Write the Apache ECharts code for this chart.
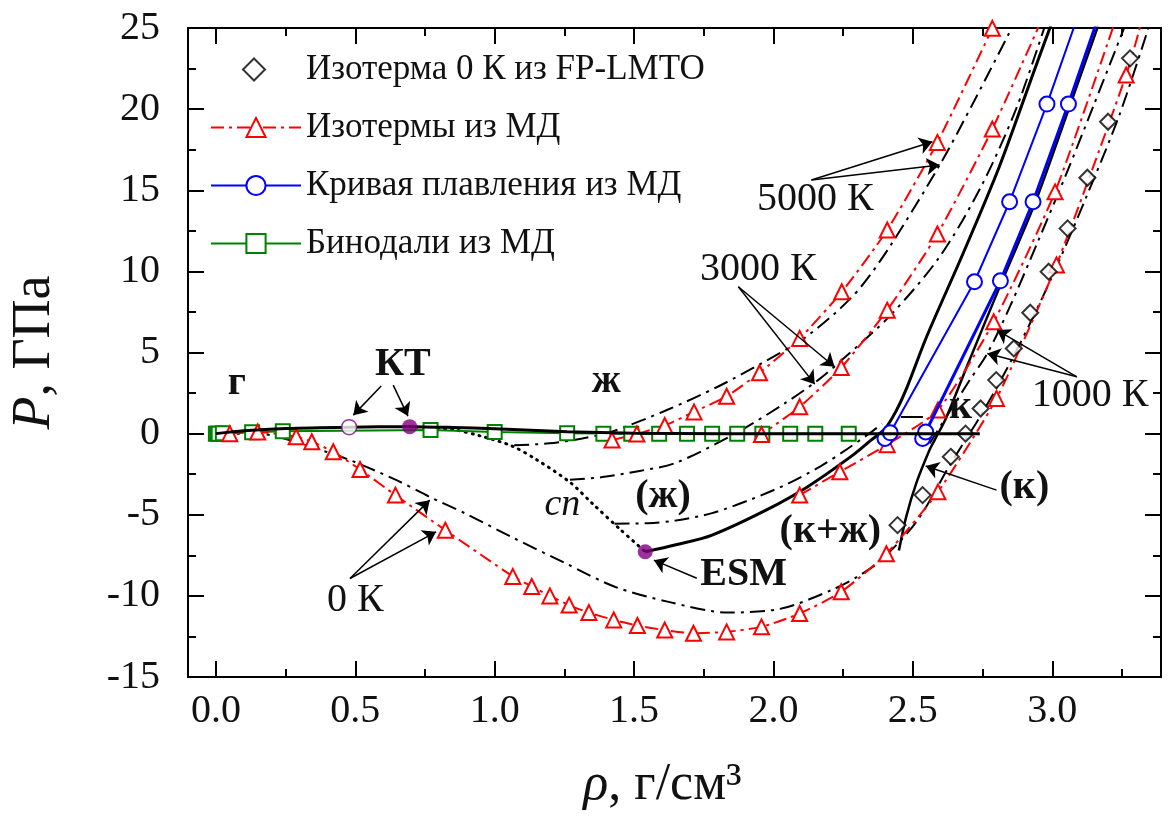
<!DOCTYPE html>
<html>
<head>
<meta charset="utf-8">
<script src="https://cdn.jsdelivr.net/npm/echarts@6.0.0/dist/echarts.min.js"></script>
<style>html,body{margin:0;padding:0;background:#fff}#c{width:1168px;height:827px}</style>
</head>
<body>
<div id="c"></div>
<script>
// ---------------- data (rho, g/cm3 ; P, GPa) ----------------
const xMajorTicks = [0, 0.5, 1.0, 1.5, 2.0, 2.5, 3.0];
const xMinorTicks = [0.25, 0.75, 1.25, 1.75, 2.25, 2.75, 3.25];

const fpLmto0K = [[2.445,-5.64],[2.535,-3.79],[2.636,-1.43],[2.689,0.0],[2.743,1.55],[2.799,3.3],[2.862,5.25],[2.921,7.45],[2.987,9.98],[3.055,12.65],[3.126,15.77],[3.2,19.22],[3.279,23.13]];

const md0K = [[0.05,0.0],[0.15,0.1],[0.288,-0.2],[0.344,-0.5],[0.421,-1.12],[0.517,-2.21],[0.644,-3.79],[0.823,-5.95],[1.065,-8.8],[1.133,-9.42],[1.198,-10.0],[1.267,-10.57],[1.338,-11.03],[1.427,-11.48],[1.512,-11.83],[1.61,-12.11],[1.713,-12.3],[1.832,-12.22],[1.957,-11.91],[2.094,-11.09],[2.243,-9.75],[2.405,-7.4],[2.59,-3.59],[2.8,2.17],[3.015,10.4],[3.265,22.1],[3.33,26.0]];
const md1000K = [[2.094,-3.79],[2.238,-2.35],[2.408,-0.68],[2.59,1.45],[2.79,6.89],[3.01,14.9],[3.245,26.4]];
const md3000K = [[1.957,-0.05],[2.094,1.65],[2.243,4.07],[2.408,7.61],[2.588,12.3],[2.785,18.77],[2.98,26.2]];
const md5000K = [[1.421,-0.4],[1.51,-0.02],[1.61,0.5],[1.715,1.34],[1.832,2.3],[1.95,3.75],[2.094,5.87],[2.245,8.74],[2.408,12.55],[2.588,17.95],[2.785,24.98]];

const meltLeftMD = [[2.40,-0.3],[2.419,0.05],[2.721,9.36],[2.847,14.29],[2.981,20.31],[3.085,25.4]];
const meltRightMD = [[2.535,-0.3],[2.546,0.1],[2.814,9.42],[2.931,14.29],[3.058,20.31],[3.16,25.4]];

const binodalMD = [[0.0,0.0],[0.005,0.0],[0.01,0.0],[0.025,0.02],[0.13,0.08],[0.24,0.15],[0.77,0.22],[1.0,0.1],[1.26,0.02],[1.39,0.0],[1.49,0.0],[1.59,0.0],[1.69,0.0],[1.78,0.0],[1.87,0.0],[1.96,0.0],[2.06,0.0],[2.15,0.0],[2.27,0.0]];

const binodalModel = [[0,0],[0.1,0.18],[0.25,0.32],[0.478,0.4],[0.695,0.43],[0.85,0.38],[1.0,0.3],[1.26,0.12],[1.5,0.03],[1.8,0.0],[2.74,0.0]];
const spinodalModel = [[0.695,0.43],[0.85,0.25],[0.95,-0.15],[1.06,-0.75],[1.15,-1.6],[1.27,-3.0],[1.35,-4.3],[1.45,-5.9],[1.54,-7.28]];
const meltLiquidModel = [[1.54,-7.28],[1.65,-6.85],[1.78,-6.25],[1.975,-4.7],[2.12,-3.3],[2.275,-1.45],[2.35,-0.4],[2.40,0.3],[2.44,1.4],[2.48,2.9],[2.55,6.0],[2.68,11.1],[2.81,16.45],[2.94,22.6],[3.0,25.4]];
const meltSolidModel = [[2.45,-7.2],[2.476,-5.13],[2.512,-3.07],[2.56,-1.0],[2.578,-0.4],[2.62,1.0],[2.7,4.4],[2.82,9.4],[2.94,14.3],[3.065,20.3],[3.17,25.4]];

const model0K = [[0,0],[0.16,-0.02],[0.338,-0.81],[0.48,-1.63],[0.648,-2.87],[0.767,-3.9],[0.898,-4.95],[1.064,-6.4],[1.255,-8.0],[1.433,-9.45],[1.624,-10.37],[1.838,-11.03],[2.029,-10.78],[2.207,-9.65],[2.3,-8.83],[2.386,-7.8],[2.517,-5.33],[2.636,-1.84],[2.755,1.45],[2.88,5.4],[3.0,9.7],[3.12,14.5],[3.24,19.6],[3.345,25.0]];
const model1000Kliq = [[1.43,-5.55],[1.55,-5.52],[1.65,-5.35],[1.78,-4.9],[1.92,-4.05],[2.05,-3.1],[2.17,-2.0],[2.266,-0.93],[2.343,0.0],[2.39,0.6]];
const model1000Ksol = [[2.56,-0.6],[2.63,1.3],[2.7,3.2],[2.767,4.94],[2.85,7.9],[2.95,11.9],[3.05,16.0],[3.15,20.3],[3.26,25.1]];
const model3000K = [[1.27,-2.85],[1.386,-2.68],[1.52,-2.3],[1.65,-1.8],[1.862,0.0],[2.04,1.86],[2.16,3.3],[2.243,4.5],[2.42,7.3],[2.596,10.9],[2.744,15.2],[2.87,20.0],[2.975,25.2]];
const model5000K = [[1.07,-0.72],[1.195,-0.6],[1.314,-0.3],[1.42,0.12],[1.624,1.5],[1.8,2.89],[1.957,4.33],[2.1,5.76],[2.22,7.41],[2.314,9.05],[2.42,11.6],[2.596,16.55],[2.72,20.5],[2.854,24.98]];

const criticalOpen = [[0.478,0.4]];
const criticalFilled = [[0.695,0.43]];
const esmPoint = [[1.54,-7.28]];

const labelTexts = ['г','КТ','ж','сп','(ж)','ESM','(к+ж)','(к)','к','1000 К','3000 К','5000 К','0 К'];
const labelAt = [[0.075,3.05],[0.671,4.28],[1.4,3.18],[1.243,-4.41],[1.604,-3.91],[1.893,-8.72],[2.204,-6.07],[2.9,-3.36],[2.671,1.57],[3.136,2.37],[1.946,10.14],[2.15,14.4],[0.5,-10.27]];
const labelKind = ['b','b','b','i','b','b','b','b','b','r','r','r','r'];

const arrowSegs = [
  [[0.593,2.93],[0.493,1.14]], [[0.636,2.99],[0.689,1.08]],
  [[0.481,-8.93],[0.767,-4.1]], [[0.481,-8.93],[0.79,-6.05]],
  [[1.725,-8.91],[1.571,-7.8]],
  [[2.8,-3.48],[2.546,-2.0]],
  [[3.088,3.5],[2.802,6.38]], [[3.088,3.5],[2.767,4.94]],
  [[1.874,9.05],[2.219,4.12]], [[1.874,9.05],[2.148,3.05]],
  [[2.136,15.63],[2.57,17.99]], [[2.136,15.63],[2.596,16.55]]
];
const leaderSegs = [[[2.457,1.04],[2.536,1.04]]];

// ---------------- chart ----------------
const FONT = "'Liberation Serif','DejaVu Serif','Times New Roman',serif";
const TXT = '#111';
const LEG_FP = 'Изотерма 0 К из FP-LMTO';
const LEG_MD = 'Изотермы из МД';
const LEG_MELT = 'Кривая плавления из МД';
const LEG_BIN = 'Бинодали из МД';
const RED_DASH = [13,5,3,5];
const BLK_DASH = [15,6,3,6];
const DIAMOND_ICON = 'path://M0,0M90,24M43,1L54,12L43,23L32,12Z';

function xAx(pos, ticks, len, withLabel) {
  return {
    type: 'value', min: -0.1, max: 3.39, position: pos,
    axisLine: { show: true, onZero: false, lineStyle: { color: '#000', width: 2 } },
    axisTick: { show: true, inside: true, length: len, customValues: ticks, lineStyle: { color: '#000', width: 2 } },
    axisLabel: withLabel ? { show: true, customValues: ticks, formatter: v => v.toFixed(1), fontFamily: FONT, fontSize: 40, color: TXT, margin: 14 } : { show: false },
    splitLine: { show: false }, minorTick: { show: false }
  };
}
function yAx(pos, withLabel) {
  return {
    type: 'value', min: -15, max: 25, interval: 5, position: pos,
    axisLine: { show: true, onZero: false, lineStyle: { color: '#000', width: 2 } },
    axisTick: { show: true, inside: true, length: 16, lineStyle: { color: '#000', width: 2 } },
    minorTick: { show: true, splitNumber: 2, length: 8, lineStyle: { color: '#000', width: 2 } },
    axisLabel: withLabel ? { show: true, fontFamily: FONT, fontSize: 40, color: TXT, margin: 28 } : { show: false },
    splitLine: { show: false }
  };
}

const xAxes = [xAx('bottom', xMajorTicks, 16, true), xAx('bottom', xMinorTicks, 8, false), xAx('top', xMajorTicks, 16, false), xAx('top', xMinorTicks, 8, false)];
xAxes[0].name = '{i|ρ}, г/см³';
xAxes[0].nameLocation = 'middle';
xAxes[0].nameGap = 82;
xAxes[0].nameTextStyle = { fontFamily: FONT, fontSize: 52, color: TXT, padding: [0, 24, 0, 0], rich: { i: { fontFamily: FONT, fontStyle: 'italic', fontSize: 52, color: TXT } } };
const yAxes = [yAx('left', true), yAx('right', false)];
yAxes[0].name = '{i|P}, ГПа';
yAxes[0].nameLocation = 'middle';
yAxes[0].nameRotate = 90;
yAxes[0].nameGap = 126;
yAxes[0].nameTextStyle = { fontFamily: FONT, fontSize: 54, color: TXT, rich: { i: { fontFamily: FONT, fontStyle: 'italic', fontSize: 54, color: TXT } } };

function modelLine(data, opt) {
  return Object.assign({ type: 'line', data: data, symbol: 'none', smooth: 0.3,
    lineStyle: { color: '#000', width: 2, type: BLK_DASH }, z: 2, silent: true }, opt || {});
}
function mdLine(data) {
  return { name: LEG_MD, type: 'line', data: data, symbol: 'triangle', symbolSize: 15, smooth: 0.2,
    lineStyle: { color: '#ff0000', width: 2, type: RED_DASH },
    itemStyle: { color: '#ffffff', borderColor: '#ff0000', borderWidth: 2 }, z: 3 };
}
function meltLine(data, w) {
  return { name: LEG_MELT, type: 'line', data: data, symbol: 'circle', symbolSize: 15,
    lineStyle: { color: '#0000ff', width: w },
    itemStyle: { color: '#ffffff', borderColor: '#0000ff', borderWidth: 2 }, z: 4 };
}

const series = [
  modelLine(model0K), modelLine(model1000Kliq), modelLine(model1000Ksol), modelLine(model3000K), modelLine(model5000K),
  { type: 'line', data: spinodalModel, symbol: 'none', smooth: 0.3, lineStyle: { color: '#000', width: 3, type: [1, 6], cap: 'round' }, z: 2, silent: true },
  { type: 'line', data: meltSolidModel, symbol: 'none', smooth: 0.3, lineStyle: { color: '#000', width: 2.5 }, z: 2, silent: true },
  { type: 'line', data: meltLiquidModel, symbol: 'none', smooth: 0.3, lineStyle: { color: '#000', width: 3 }, z: 2, silent: true },
  { name: LEG_BIN, type: 'line', data: binodalMD, symbol: 'rect', symbolSize: 14,
    lineStyle: { color: '#008000', width: 2 }, itemStyle: { color: '#ffffff', borderColor: '#008000', borderWidth: 2 }, z: 3 },
  mdLine(md0K), mdLine(md1000K), mdLine(md3000K), mdLine(md5000K),
  meltLine(meltLeftMD, 2), meltLine(meltRightMD, 3),
  { name: LEG_FP, type: 'scatter', data: fpLmto0K, symbol: 'diamond', symbolSize: 16,
    itemStyle: { color: '#ffffff', borderColor: '#000', borderWidth: 2 }, z: 5 },
  { type: 'line', data: binodalModel, symbol: 'none', smooth: 0.3, lineStyle: { color: '#000', width: 3 }, z: 6, silent: true },
  { type: 'scatter', data: criticalOpen, symbol: 'circle', symbolSize: 15, itemStyle: { color: '#ffffff', borderColor: '#800080', borderWidth: 1.5 }, z: 7, silent: true },
  { type: 'scatter', data: criticalFilled.concat(esmPoint), symbol: 'circle', symbolSize: 15, itemStyle: { color: '#800080' }, z: 7, silent: true },
  { type: 'lines', coordinateSystem: 'cartesian2d', data: arrowSegs.map(s => ({ coords: s })), symbol: ['none', 'arrow'], symbolSize: 13,
    lineStyle: { color: '#000', width: 1.5, opacity: 1 }, z: 8, silent: true },
  { type: 'lines', coordinateSystem: 'cartesian2d', data: leaderSegs.map(s => ({ coords: s })), symbol: ['none', 'none'],
    lineStyle: { color: '#000', width: 2, opacity: 1 }, z: 8, silent: true },
  { type: 'scatter', symbolSize: 0.5, itemStyle: { color: '#111111' }, z: 9, silent: true, clip: false,
    data: labelAt.map((p, i) => ({ value: p, label: {
      show: true, position: 'inside', formatter: labelTexts[i], fontFamily: FONT, color: TXT, opacity: 1,
      textBorderWidth: 0,
      fontSize: labelKind[i] === 'i' ? 38 : 40,
      fontWeight: labelKind[i] === 'b' ? 'bold' : 'normal',
      fontStyle: labelKind[i] === 'i' ? 'italic' : 'normal' } })) }
];

const chart = echarts.init(document.getElementById('c'), null, { renderer: 'canvas', width: 1168, height: 827 });
chart.setOption({
  animation: false,
  backgroundColor: '#ffffff',
  grid: { left: 183, right: 7, top: 28, bottom: 150, containLabel: false },
  legend: { orient: 'vertical', left: 210, top: 52, padding: 0, itemWidth: 90, itemHeight: 24, itemGap: 23,
    selectedMode: false,
    data: [{ name: LEG_FP, icon: DIAMOND_ICON }, LEG_MD, LEG_MELT, LEG_BIN],
    textStyle: { fontFamily: FONT, fontSize: 35, color: TXT } },
  xAxis: xAxes,
  yAxis: yAxes,
  series: series
});
</script>
</body>
</html>
